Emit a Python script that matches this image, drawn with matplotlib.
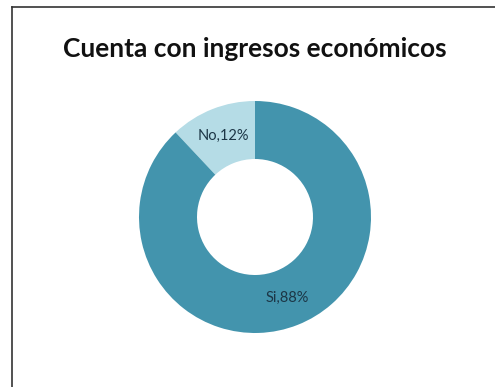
import matplotlib.pyplot as plt
from matplotlib.lines import Line2D
import numpy as np

# ingresos económicos
categorias = ['No', 'Si']
porcentajes = [12, 88]
colores = ['#B5DCE6', '#4394AD']
titulo = 'Cuenta con ingresos económicos'

W, H = 495, 387
fig = plt.figure(figsize=(W / 100, H / 100), dpi=100)
fig.patch.set_facecolor('white')

# donut centered at (255, 217) px, radius 116 px
cx, cy, r = 255, 217, 116
ax = fig.add_axes([(cx - r) / W, (H - cy - r) / H, 2 * r / W, 2 * r / H])
wedges, _ = ax.pie(porcentajes, colors=colores, startangle=90, counterclock=True,
                   radius=1, wedgeprops=dict(width=0.5, edgecolor='none'))
ax.set_xlim(-1, 1)
ax.set_ylim(-1, 1)
ax.set_aspect('equal')

for w, cat, p in zip(wedges, categorias, porcentajes):
    ang = np.deg2rad((w.theta1 + w.theta2) / 2)
    ax.text(0.75 * np.cos(ang), 0.75 * np.sin(ang), '%s,%d%%' % (cat, p),
            ha='center', va='center', fontsize=10.5, color='#1C3646', family='Lato')

fig.text(cx / W, 1 - 49 / H, titulo, ha='center', va='center',
         fontsize=19, fontweight='bold', family='Lato', color='#111111')

# chart frame (left and top edges)
fig.add_artist(Line2D([11.5 / W, 11.5 / W], [0, 1 - 6.5 / H], transform=fig.transFigure,
                      color='#333333', lw=1.2))
fig.add_artist(Line2D([11.5 / W, 1], [1 - 6.5 / H, 1 - 6.5 / H], transform=fig.transFigure,
                      color='#333333', lw=1.2))

fig.savefig('out.png', dpi=100)
